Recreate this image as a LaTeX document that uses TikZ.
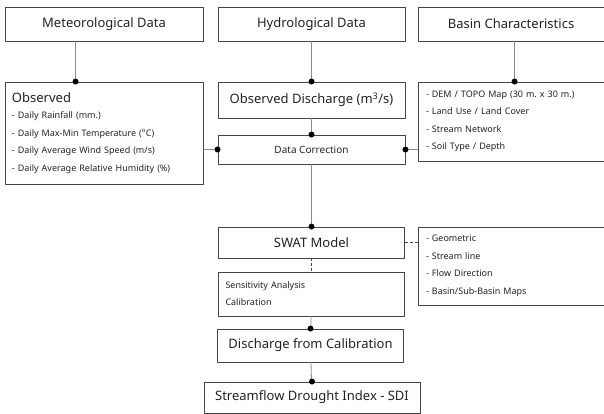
\documentclass[tikz,border=0pt]{standalone}
\usepackage{fontspec}
\setmainfont{Noto Sans}
\frenchspacing
\definecolor{boxc}{HTML}{454545}
\definecolor{linkc}{HTML}{8A8A8A}
\definecolor{txtc}{HTML}{222222}
\begin{document}
\begin{tikzpicture}[x=1pt, y=-1pt, line join=round, line cap=round,
  box/.style={draw=boxc, line width=0.9pt, inner sep=0pt, text=txtc, font=\fontsize{13}{15}\selectfont},
  listbox/.style={box, align=left, font=\fontsize{9}{17.5}\selectfont},
  link/.style={draw=linkc, line width=0.8pt},
  dlink/.style={draw=boxc, line width=1.6pt, dash pattern=on 3pt off 2pt, line cap=butt}]
  \useasboundingbox (0,0) rectangle (604,414);
  % data sources
  \node[box, minimum width=198pt, minimum height=34pt] (met) at (104,24) {Meteorological Data};
  \node[box, minimum width=187pt, minimum height=34pt] (hyd) at (311.5,24) {Hydrological Data};
  \node[box, minimum width=186pt, minimum height=34pt] (bas) at (511,24) {Basin Characteristics};
  % inputs
  \node[listbox, minimum width=198pt, minimum height=102pt, text width=184pt] (obs) at (104,133)
    {{\fontsize{13}{15}\selectfont Observed}\\[-1.5pt]
     - Daily Rainfall (mm.)\\
     - Daily Max-Min Temperature (\textsuperscript{o}C)\\
     - Daily Average Wind Speed (m/s)\\
     - Daily Average Relative Humidity (\%)};
  \node[box, minimum width=187pt, minimum height=36pt] (obsq) at (311.5,100) {Observed Discharge (m\textsuperscript{3}/s)};
  \node[listbox, minimum width=186pt, minimum height=79pt, text width=170pt] (basin) at (511,121.5)
    {- DEM / TOPO Map (30 m. x 30 m.)\\
     - Land Use / Land Cover\\
     - Stream Network\\
     - Soil Type / Depth};
  \node[box, minimum width=187pt, minimum height=29pt, font=\fontsize{10}{12}\selectfont] (corr) at (311.5,149.5) {Data Correction};
  % model
  \node[box, minimum width=186pt, minimum height=31pt] (swat) at (311.5,242.5) {SWAT Model};
  \node[listbox, minimum width=186pt, minimum height=78pt, text width=170pt] (geo) at (511,266)
    {- Geometric\\
     - Stream line\\
     - Flow Direction\\
     - Basin/Sub-Basin Maps};
  \node[listbox, minimum width=186pt, minimum height=44pt, text width=172pt, font=\fontsize{9}{17}\selectfont] (sens) at (311.5,294)
    {Sensitivity Analysis\\
     Calibration};
  \node[box, minimum width=186pt, minimum height=33pt] (disc) at (310.5,345.5) {Discharge from Calibration};
  \node[box, minimum width=216pt, minimum height=31pt] (sdi) at (312,397.5) {Streamflow Drought Index - SDI};
  % connectors
  \path (obs.north west) ++(71,0) coordinate (pobs);
  \path (basin.north west) ++(97,0) coordinate (pbas);
  \draw[link] (pobs |- met.south) -- (pobs);
  \draw[link] (hyd) -- (obsq);
  \draw[link] (pbas |- bas.south) -- (pbas);
  \draw[link] (obsq) -- (corr);
  \draw[link] (obs.east |- corr) -- (corr.west);
  \draw[link] (basin.west |- corr) -- (corr.east);
  \draw[link] (corr) -- (swat);
  \draw[link] (sens) -- (disc);
  \draw[link] (disc) -- (sdi);
  \draw[dlink] (swat.east) -- (geo.west |- swat.east);
  \draw[dlink] (swat.south) -- (sens.north);
  \foreach \p in {pobs, obsq.north, pbas, corr.north, corr.west, corr.east, swat.north, disc.north, sdi.north}
    \fill (\p) circle (3pt);
\end{tikzpicture}
\end{document}
